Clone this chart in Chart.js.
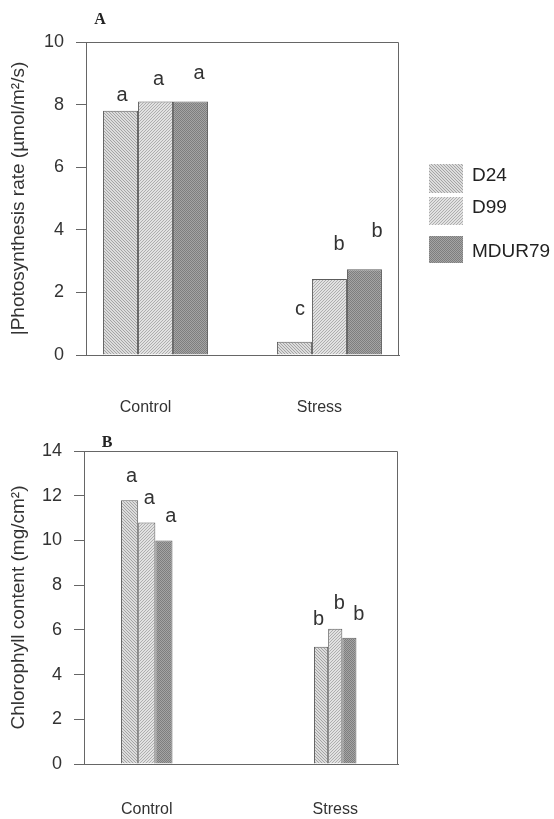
<!DOCTYPE html>
<html>
<head>
<meta charset="utf-8">
<script src="https://cdn.jsdelivr.net/npm/chart.js@4.4.1/dist/chart.umd.min.js"></script>
<style>
  html, body { margin: 0; padding: 0; background: #ffffff; }
  body { width: 554px; height: 819px; position: relative; overflow: hidden; }
  canvas { position: absolute; left: 0; }
  #photo { top: 0; }
  #chloro { top: 420px; }
</style>
</head>
<body>
<canvas id="photo" width="554" height="420"></canvas>
<canvas id="chloro" width="554" height="399"></canvas>
<script>
// ---- data ----
const categories = ['Control', 'Stress'];
const lines = ['D24', 'D99', 'MDUR79'];

// Photosynthesis rate (µmol/m²/s)
const photoD24 = [7.8, 0.42];
const photoD99 = [8.1, 2.43];
const photoMDUR79 = [8.1, 2.74];
const photoLetters = [['a', 'c'], ['a', 'b'], ['a', 'b']];
const photoTicks = [0, 2, 4, 6, 8, 10];

// Chlorophyll content (mg/cm²)
const chloroD24 = [11.8, 5.25];
const chloroD99 = [10.8, 6.05];
const chloroMDUR79 = [10.0, 5.65];
const chloroLetters = [['a', 'b'], ['a', 'b'], ['a', 'b']];
const chloroTicks = [0, 2, 4, 6, 8, 10, 12, 14];

// ---- styling helpers ----
const SANS = '"Liberation Sans", Arial, sans-serif';
const SERIF = '"Liberation Serif", "Times New Roman", serif';
const INK = '#333333';
const AXIS = '#666666';

function tile(size, paint) {
  const c = document.createElement('canvas');
  c.width = c.height = size;
  const g = c.getContext('2d');
  paint(g);
  return g.createPattern(c, 'repeat');
}
// fine hatching / stipple fills for the three lines
const fills = [
  tile(3, g => { g.fillStyle = '#dcdcdc'; g.fillRect(0, 0, 3, 3); g.fillStyle = '#a4a4a4'; for (let i = 0; i < 3; i++) g.fillRect(i, i, 1, 1); }),
  tile(3, g => { g.fillStyle = '#e2e2e2'; g.fillRect(0, 0, 3, 3); g.fillStyle = '#aeaeae'; for (let i = 0; i < 3; i++) g.fillRect(2 - i, i, 1, 1); }),
  tile(2, g => { g.fillStyle = '#a4a4a4'; g.fillRect(0, 0, 2, 2); g.fillStyle = '#7e7e7e'; g.fillRect(0, 0, 1, 1); g.fillRect(1, 1, 1, 1); })
];
const edge = '#5c5c5c';

function xAxis(span, height, pad, shift) {
  return {
    type: 'linear', min: -span, max: 1 + span, offset: false,
    grid: { display: false, drawTicks: false },
    border: { display: true, color: AXIS, width: 1 },
    afterBuildTicks: s => { s.ticks = categories.map((_, i) => ({ value: i })); },
    afterFit: s => { s.height = height; },
    ticks: {
      padding: pad, labelOffset: shift, color: INK, autoSkip: false, maxRotation: 0,
      font: { family: SANS, size: 16 },
      callback: v => categories[v] ?? ''
    }
  };
}
function yAxis(tickVals, title, width) {
  return {
    type: 'linear', min: tickVals[0], max: tickVals[tickVals.length - 1],
    afterBuildTicks: s => { s.ticks = tickVals.map(v => ({ value: v })); },
    afterFit: s => { s.width = width; },
    grid: { drawOnChartArea: false, drawTicks: true, tickLength: 10, color: AXIS },
    border: { display: true, color: AXIS, width: 1 },
    ticks: { padding: 12, color: INK, font: { family: SANS, size: 18 } },
    title: { display: true, text: title, color: INK, font: { family: SANS, size: 19 }, padding: { top: 7, bottom: 0 } }
  };
}

// ---- plugins ----
// closes the plot box on the top and right
const frame = {
  id: 'frame',
  afterDraw(chart) {
    const { ctx, chartArea: a } = chart;
    ctx.save();
    ctx.strokeStyle = AXIS;
    ctx.lineWidth = 1;
    ctx.beginPath();
    const t = Math.round(a.top) + 0.5, r = Math.round(a.right) - 0.5;
    ctx.moveTo(a.left, t); ctx.lineTo(r, t); ctx.lineTo(r, a.bottom);
    ctx.stroke();
    ctx.restore();
  }
};
// panel tag (A / B)
const panelTag = {
  id: 'panelTag',
  afterDraw(chart, _a, o) {
    const { ctx, chartArea: a } = chart;
    ctx.save();
    ctx.font = 'bold 16px ' + SERIF;
    ctx.fillStyle = '#222';
    ctx.textAlign = 'center';
    ctx.textBaseline = 'alphabetic';
    ctx.fillText(o.text, a.left + o.dx, a.top + o.dy);
    ctx.restore();
  }
};
// significance letters over each bar
const sigLetters = {
  id: 'sigLetters',
  afterDatasetsDraw(chart, _a, o) {
    const { ctx } = chart;
    ctx.save();
    ctx.font = '20px ' + SANS;
    ctx.fillStyle = INK;
    ctx.textAlign = 'center';
    ctx.textBaseline = 'alphabetic';
    chart.data.datasets.forEach((ds, di) => {
      const meta = chart.getDatasetMeta(di);
      meta.data.forEach((el, j) => {
        const v = ds.data[j].y;
        if (v === null || v === undefined) return;
        const k = ds.series;
        ctx.fillText(o.letters[k][j], el.x + o.dx[k][j], el.y - o.lift[k][j]);
      });
    });
    ctx.restore();
  }
};
// legend with the bar fills as swatches
const swatchLegend = {
  id: 'swatchLegend',
  afterDraw(chart, _a, o) {
    const { ctx } = chart;
    ctx.save();
    ctx.font = '19px ' + SANS;
    ctx.textAlign = 'left';
    ctx.textBaseline = 'middle';
    chart.data.datasets.forEach((ds, k) => {
      ctx.fillStyle = ds.backgroundColor;
      ctx.fillRect(o.x, o.top[k], o.w, o.h[k]);
      ctx.fillStyle = '#222';
      ctx.fillText(ds.label, o.textX, o.textY[k]);
    });
    ctx.restore();
  }
};

// ---- panel A: photosynthesis ----
const photoSeries = [photoD24, photoD99, photoMDUR79];
new Chart(document.getElementById('photo'), {
  type: 'bar',
  data: {
    datasets: lines.map((name, k) => ({
      label: name,
      series: k,
      data: photoSeries[k].map((v, i) => ({ x: i, y: v })),
      backgroundColor: fills[k],
      borderColor: edge,
      borderWidth: 1,
      barPercentage: 1,
      categoryPercentage: 0.604
    }))
  },
  options: {
    responsive: false, animation: false, devicePixelRatio: 1,
    layout: { padding: { left: 0, top: 42, right: 155, bottom: 0 } },
    scales: {
      x: xAxis(0.4, 65, 43, -10),
      y: yAxis(photoTicks, '|Photosynthesis rate (\u00b5mol/m\u00b2/s)', 86)
    },
    plugins: {
      legend: { display: false },
      tooltip: { enabled: false },
      panelTag: { text: 'A', dx: 14, dy: -18 },
      sigLetters: {
        letters: photoLetters,
        lift: [[9.5, 27], [16.5, 28.5], [22, 32]],
        dx: [[1.5, 5.5], [3, 9.5], [8.5, 12.5]]
      },
      swatchLegend: { x: 429, w: 34, top: [164, 197, 236], h: [29, 28, 27], textX: 472, textY: [176, 208, 252] }
    }
  },
  plugins: [frame, panelTag, sigLetters, swatchLegend]
});

// ---- panel B: chlorophyll ----
const chloroSeries = [chloroD24, chloroD99, chloroMDUR79];
const groupWidth = [0.273, 0.225]; // control bars are drawn a little wider than stress bars
const chloroSets = [];
categories.forEach((cat, i) => {
  lines.forEach((name, k) => {
    chloroSets.push({
      label: name,
      series: k,
      data: categories.map((_, j) => ({ x: j, y: j === i ? chloroSeries[k][j] : null })),
      backgroundColor: fills[k],
      borderColor: edge,
      borderWidth: 1,
      barPercentage: 1,
      categoryPercentage: groupWidth[i],
      skipNull: true
    });
  });
});
new Chart(document.getElementById('chloro'), {
  type: 'bar',
  data: { datasets: chloroSets },
  options: {
    responsive: false, animation: false, devicePixelRatio: 1,
    skipNull: true,
    layout: { padding: { left: 0, top: 31, right: 156, bottom: 0 } },
    scales: {
      x: xAxis(0.333, 55, 36, 0),
      y: yAxis(chloroTicks, 'Chlorophyll content (mg/cm\u00b2)', 84)
    },
    plugins: {
      legend: { display: false },
      tooltip: { enabled: false },
      panelTag: { text: 'B', dx: 23, dy: -4 },
      sigLetters: {
        letters: chloroLetters,
        lift: [[18.5, 22], [19, 20], [18, 18]],
        dx: [[2, -2.5], [2.5, 4], [7, 9.5]]
      }
    }
  },
  plugins: [frame, panelTag, sigLetters]
});
</script>
</body>
</html>
